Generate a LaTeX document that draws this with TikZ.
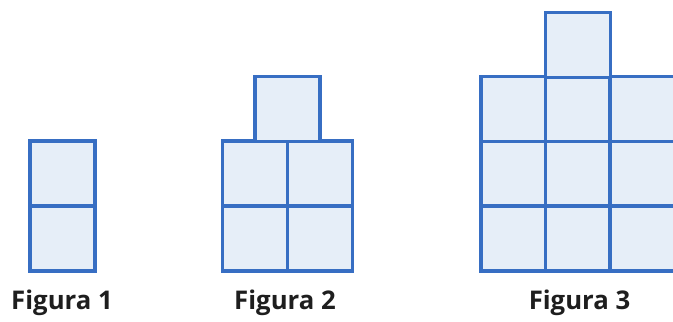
\documentclass[tikz,border=0pt]{standalone}
\usepackage{fontspec}
\setmainfont{Open Sans}
\usepackage{xcolor}
\definecolor{cellfill}{RGB}{230,238,248}
\definecolor{celldraw}{RGB}{55,110,195}
\definecolor{labeltext}{RGB}{30,30,30}
\tikzset{
  cell/.style={draw=celldraw,fill=cellfill,line width=2.6pt,minimum size=48.75pt,inner sep=0pt,outer sep=0pt},
  figlabel/.style={anchor=base,inner sep=0.75pt,text=labeltext,font=\fontsize{19.3}{23}\selectfont\bfseries}
}
\begin{document}
\begin{tikzpicture}[x=0.75pt,y=0.75pt,yscale=-1,xscale=1]
\useasboundingbox (0,0) rectangle (673,321);
\clip (0,0) rectangle (673,321);

%Figura 1
\node [cell] (a1) at (62.5,238.5) {};
\node [cell] (a2) at (62.5,173.5) {};

%Figura 2
\node [cell] (b11) at (255,238.5) {};
\node [cell] (b12) at (320,238.5) {};
\node [cell] (b21) at (255,173.5) {};
\node [cell] (b22) at (320,173.5) {};
\node [cell] (b3) at (287.5,109) {};

%Figura 3
\foreach \r/\y in {1/238.5,2/173.5,3/109}
  \foreach \c/\x in {1/513.5,2/578,3/642.5}
    \node [cell] (c\r\c) at (\x,\y) {};
\node [cell] (c4) at (578,45) {};

% Text Node
\node [figlabel] (la) at (62,309) {Figura 1};
% Text Node
\node [figlabel] (lb) at (285,309) {Figura 2};
% Text Node
\node [figlabel] (lc) at (579.5,309) {Figura 3};

\end{tikzpicture}
\end{document}
